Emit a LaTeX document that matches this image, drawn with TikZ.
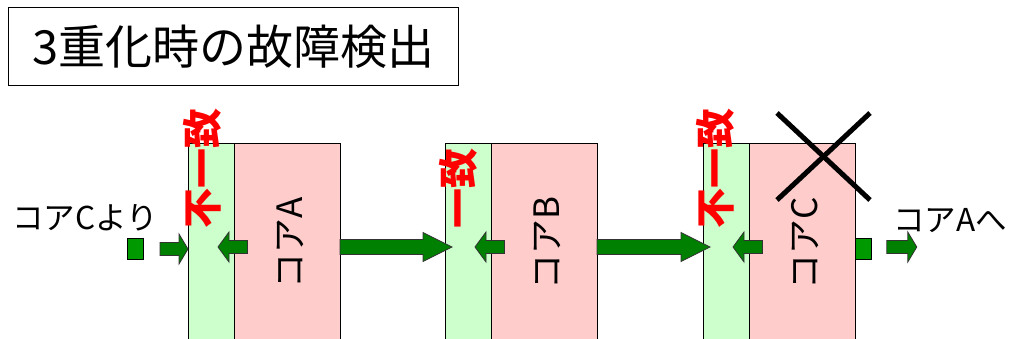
\documentclass[tikz,border=0pt]{standalone}
\usepackage{fontspec}
\setmainfont{Noto Sans CJK JP}
\usetikzlibrary{positioning,calc}

\definecolor{chkgreen}{RGB}{204,255,204}
\definecolor{corepink}{RGB}{255,204,204}
\definecolor{arrgreen}{RGB}{0,128,0}
\definecolor{sqgreen}{RGB}{0,153,0}

% block arrow: from, to, shaft half width, head half width, head length
\newcommand{\blockarrow}[5]{%
  \draw[blockarr] let \p1=#1, \p2=#2, \n1={sign(\x2-\x1)} in
    (\x1,{\y1+#3}) -- ({\x2-(\n1)*#5},{\y1+#3}) -- ({\x2-(\n1)*#5},{\y1+#4}) -- (\x2,\y1)
    -- ({\x2-(\n1)*#5},{\y1-#4}) -- ({\x2-(\n1)*#5},{\y1-#3}) -- (\x1,{\y1-#3}) -- cycle;}

\begin{document}
\begin{tikzpicture}[x=1pt,y=1pt,yscale=-1,xscale=1,
  chkbox/.style={draw, fill=chkgreen, line width=0.9pt, minimum width=46pt, minimum height=208pt, inner sep=0pt, outer sep=0pt},
  corebox/.style={draw, fill=corepink, line width=0.9pt, minimum width=106pt, minimum height=208pt, inner sep=0pt, outer sep=0pt},
  corelabel/.style={rotate=90, inner sep=0pt, font=\fontsize{35}{40}\selectfont},
  redlabel/.style={rotate=90, inner sep=0pt, text=red, font=\fontsize{40}{46}\selectfont\bfseries},
  sidelabel/.style={inner sep=0pt, font=\fontsize{31.5}{36}\selectfont},
  titlebox/.style={draw, line width=1.2pt, minimum width=450pt, minimum height=78pt, inner sep=0pt, font=\fontsize{47}{52}\selectfont},
  sqbox/.style={draw, fill=sqgreen, line width=0.8pt, minimum width=16pt, minimum height=21pt, inner sep=0pt},
  blockarr/.style={draw=black!80, fill=arrgreen, line width=0.8pt, line join=miter},
  cross/.style={line width=5pt, black}]
		\useasboundingbox (0,0) rectangle (1011,338);
		
		% Text Node
		\node[titlebox, anchor=north west] (title) at (8,7) {3重化時の故障検出};
		
		%Shape: Rectangle [core A]
		\node[chkbox, anchor=north west] (chkA) at (188,143) {};
		\node[corebox, right=0pt of chkA] (coreA) {};
		%Shape: Rectangle [core B]
		\node[chkbox, anchor=north west] (chkB) at (445,143) {};
		\node[corebox, right=0pt of chkB] (coreB) {};
		%Shape: Rectangle [core C]
		\node[chkbox, anchor=north west] (chkC) at (703,143) {};
		\node[corebox, right=0pt of chkC] (coreC) {};
		
		% Text Node
		\node[corelabel] (labA) at ($(coreA.center)+(3,-4)$) {コアA};
		% Text Node
		\node[corelabel] (labB) at ($(coreB.center)+(3,-4)$) {コアB};
		% Text Node
		\node[corelabel] (labC) at ($(coreC.center)+(3,-4)$) {コアC};
		
		% Text Node
		\node[redlabel, anchor=west] (mmA) at (202,229) {不一致};
		% Text Node
		\node[redlabel, anchor=west] (mB) at (458,229) {一致};
		% Text Node
		\node[redlabel, anchor=west] (mmC) at (715,229) {不一致};
		
		%Straight Lines [broken core]
		\draw[cross] (777,113) -- (870,200);
		\draw[cross] (870,113) -- (777,200);
		
		%Shape: Square [in / out]
		\node[sqbox, anchor=east] (insq) at (144,249) {};
		\node[sqbox, anchor=west] (outsq) at ($(coreC.east)+(0,2)$) {};
		
		% Text Node
		\node[sidelabel] (fromC) at (85,218) {コアCより};
		% Text Node
		\node[sidelabel] (toA) at (950,221) {コアAへ};
		
		%Block Arrows
		\blockarrow{(coreA.east)}{($(chkB.west)+(7,0)$)}{7.5}{14.5}{29}
		\blockarrow{(coreB.east)}{($(chkC.west)+(7,0)$)}{7.5}{14.5}{29}
		\blockarrow{($(coreA.west)+(13.5,0)$)}{($(coreA.west)+(-16,0)$)}{6.5}{15}{11}
		\blockarrow{($(coreB.west)+(13.5,0)$)}{($(coreB.west)+(-16,0)$)}{6.5}{15}{11}
		\blockarrow{($(coreC.west)+(13.5,0)$)}{($(coreC.west)+(-16,0)$)}{6.5}{15}{11}
		\blockarrow{($(insq.east)+(16,0)$)}{(chkA.west)}{6.5}{15}{9}
		\blockarrow{($(outsq.east)+(15,-2)$)}{($(outsq.east)+(45,-2)$)}{6.5}{15}{9}
		
\end{tikzpicture}
\end{document}
